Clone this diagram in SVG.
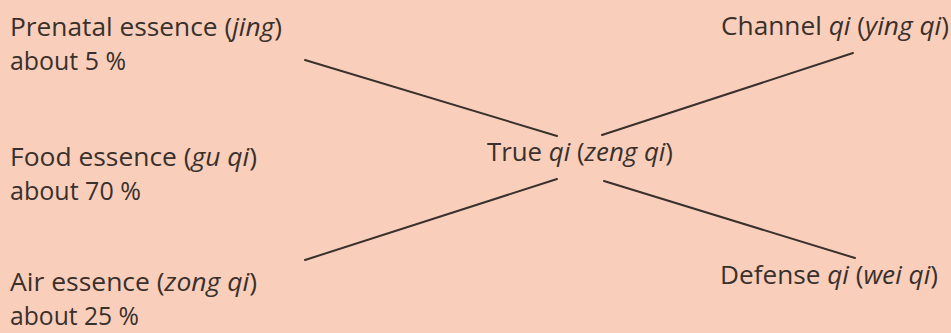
<svg xmlns="http://www.w3.org/2000/svg" width="951" height="333" viewBox="0 0 951 333">
  <style>
    .t { font-family: "Open Sans", "Noto Sans", "DejaVu Sans", sans-serif; font-size: 25px; fill: #3a302c; }
    .i { font-style: italic; }
    .c { stroke: #3a302c; stroke-width: 2; stroke-linecap: round; fill: none; }
  </style>
  <rect width="951" height="333" fill="#F9CFBC"/>
  <g id="connectors">
    <line class="c" x1="305" y1="60" x2="557" y2="136"/>
    <line class="c" x1="853" y1="53" x2="602" y2="135"/>
    <line class="c" x1="305" y1="260" x2="557" y2="179"/>
    <line class="c" x1="604" y1="181" x2="855" y2="258"/>
  </g>
  <g id="prenatal">
    <text class="t" x="10" y="36" textLength="272" lengthAdjust="spacingAndGlyphs">Prenatal essence (<tspan class="i">jing</tspan>)</text>
    <text class="t" x="10" y="70" textLength="116" lengthAdjust="spacingAndGlyphs">about 5 %</text>
  </g>
  <g id="food">
    <text class="t" x="10" y="166" textLength="247" lengthAdjust="spacingAndGlyphs">Food essence (<tspan class="i">gu qi</tspan>)</text>
    <text class="t" x="10" y="200" textLength="131" lengthAdjust="spacingAndGlyphs">about 70 %</text>
  </g>
  <g id="air">
    <text class="t" x="10" y="291" textLength="247" lengthAdjust="spacingAndGlyphs">Air essence (<tspan class="i">zong qi</tspan>)</text>
    <text class="t" x="10" y="325" textLength="129" lengthAdjust="spacingAndGlyphs">about 25 %</text>
  </g>
  <g id="true-qi">
    <text class="t" x="487" y="161" textLength="186" lengthAdjust="spacingAndGlyphs">True <tspan class="i">qi</tspan> (<tspan class="i">zeng qi</tspan>)</text>
  </g>
  <g id="channel-qi">
    <text class="t" x="721" y="35" textLength="228" lengthAdjust="spacingAndGlyphs">Channel <tspan class="i">qi</tspan> (<tspan class="i">ying qi</tspan>)</text>
  </g>
  <g id="defense-qi">
    <text class="t" x="720" y="284" textLength="218" lengthAdjust="spacingAndGlyphs">Defense <tspan class="i">qi</tspan> (<tspan class="i">wei qi</tspan>)</text>
  </g>
</svg>
